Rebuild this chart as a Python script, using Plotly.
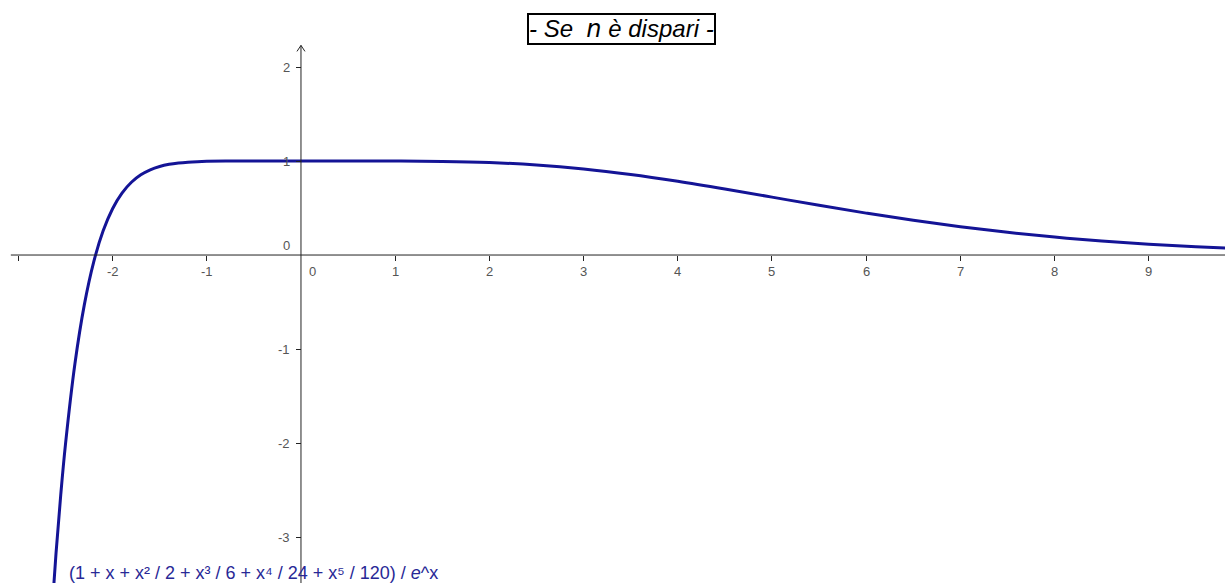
import plotly.graph_objects as go

# Curve samples
x_vals = [-2.65, -2.6, -2.55, -2.5, -2.4, -2.3, -2.2, -2.1, -2.0, -1.9, -1.8, -1.7,
          -1.6, -1.5, -1.4, -1.3, -1.2, -1.1, -1.0, -0.8, -0.5, 0.0, 0.5, 1.0, 1.5,
          2.0, 2.5, 3.0, 3.5, 4.0, 4.5, 5.0, 5.5, 6.0, 6.5, 7.0, 7.5, 8.0, 8.5, 9.0,
          9.5, 10.0]
y_vals = [-3.8866, -3.1691, -2.5492, -2.0145, -1.1591, -0.5305, -0.0728, 0.2572,
          0.4926, 0.6585, 0.7740, 0.8531, 0.9065, 0.9418, 0.9648, 0.9793, 0.9883,
          0.9936, 0.9967, 0.9993, 1.0000, 1.0000, 1.0000, 0.9994, 0.9955, 0.9834,
          0.9580, 0.9161, 0.8576, 0.7851, 0.7029, 0.6160, 0.5289, 0.4457, 0.3690,
          0.3007, 0.2414, 0.1912, 0.1496, 0.1157, 0.0885, 0.0671]

x_ticks = [-3, -2, -1, 1, 2, 3, 4, 5, 6, 7, 8, 9]
x_tick_labels = ["", "-2", "-1", "1", "2", "3", "4", "5", "6", "7", "8", "9"]
y_ticks = [-3, -2, -1, 1, 2]
y_tick_labels = ["-3", "-2", "-1", "1", "2"]

title_text = "- Se  <span style='font-family:DejaVu Sans'>n</span> è dispari -"
curve_label = "(1 + x + x² / 2 + x³ / 6 + x⁴ / 24 + x⁵ / 120) / <i>e</i>^x"

X_RANGE = [-3.195, 9.809]
Y_RANGE = [-3.489, 2.713]

fig = go.Figure()
fig.add_trace(go.Scatter(x=x_vals, y=y_vals, mode="lines",
                         line=dict(color="rgb(20,20,150)", width=3, shape="spline"),
                         hoverinfo="skip", showlegend=False))

xpos = (0 - Y_RANGE[0]) / (Y_RANGE[1] - Y_RANGE[0])
ypos = (0 - X_RANGE[0]) / (X_RANGE[1] - X_RANGE[0])

# axis lines
fig.add_shape(type="line", x0=-3.08, x1=X_RANGE[1], y0=0, y1=0,
              line=dict(color="#222", width=1))
fig.add_shape(type="line", x0=0, x1=0, y0=Y_RANGE[0], y1=2.23,
              line=dict(color="#222", width=1))
# arrow head at top of y axis
fig.add_shape(type="path", xref="x", yref="y", xsizemode="pixel", ysizemode="pixel",
              xanchor=0, yanchor=2.23, path="M -4 -6 L 0 0 L 4 -6",
              line=dict(color="#222", width=1))

tick_font = dict(family="Liberation Sans, Arial", size=13, color="#555")
for v, t in zip(x_ticks, x_tick_labels):
    if t:
        fig.add_annotation(x=v, y=0, text=t, showarrow=False, yshift=-16,
                           font=tick_font, xanchor="center", yanchor="middle")
for v, t in zip(y_ticks, y_tick_labels):
    fig.add_annotation(x=0, y=v, text=t, showarrow=False, xshift=-9,
                       font=tick_font, xanchor="right", yanchor="middle")
fig.add_annotation(x=0, y=0, text="0", showarrow=False, xshift=-9, yshift=10,
                   font=tick_font, xanchor="right", yanchor="middle")
fig.add_annotation(x=0, y=0, text="0", showarrow=False, xshift=12, yshift=-16,
                   font=tick_font, xanchor="center", yanchor="middle")

fig.add_annotation(x=0.507, y=0.95, xref="paper", yref="paper", text=title_text,
                   showarrow=False, font=dict(family="Liberation Sans, Arial", size=24,
                                              color="black", style="italic"),
                   bordercolor="black", borderwidth=2, borderpad=0,
                   xanchor="center", yanchor="middle")
fig.add_annotation(x=-2.48, y=-3.38, text=curve_label, showarrow=False,
                   font=dict(family="Liberation Sans, Arial", size=18, color="rgb(40,40,150)"),
                   xanchor="left", yanchor="middle")

fig.update_layout(
    width=1225, height=583, margin=dict(l=0, r=0, t=0, b=0),
    plot_bgcolor="white", paper_bgcolor="white",
    xaxis=dict(range=X_RANGE, showgrid=False, zeroline=False, showline=False,
               showticklabels=False, ticks="outside", ticklen=5, tickcolor="#222",
               tickvals=x_ticks, anchor="free", position=xpos),
    yaxis=dict(range=Y_RANGE, showgrid=False, zeroline=False, showline=False,
               showticklabels=False, ticks="outside", ticklen=5, tickcolor="#222",
               tickvals=y_ticks, anchor="free", position=ypos),
)

fig.write_html("out.html")
